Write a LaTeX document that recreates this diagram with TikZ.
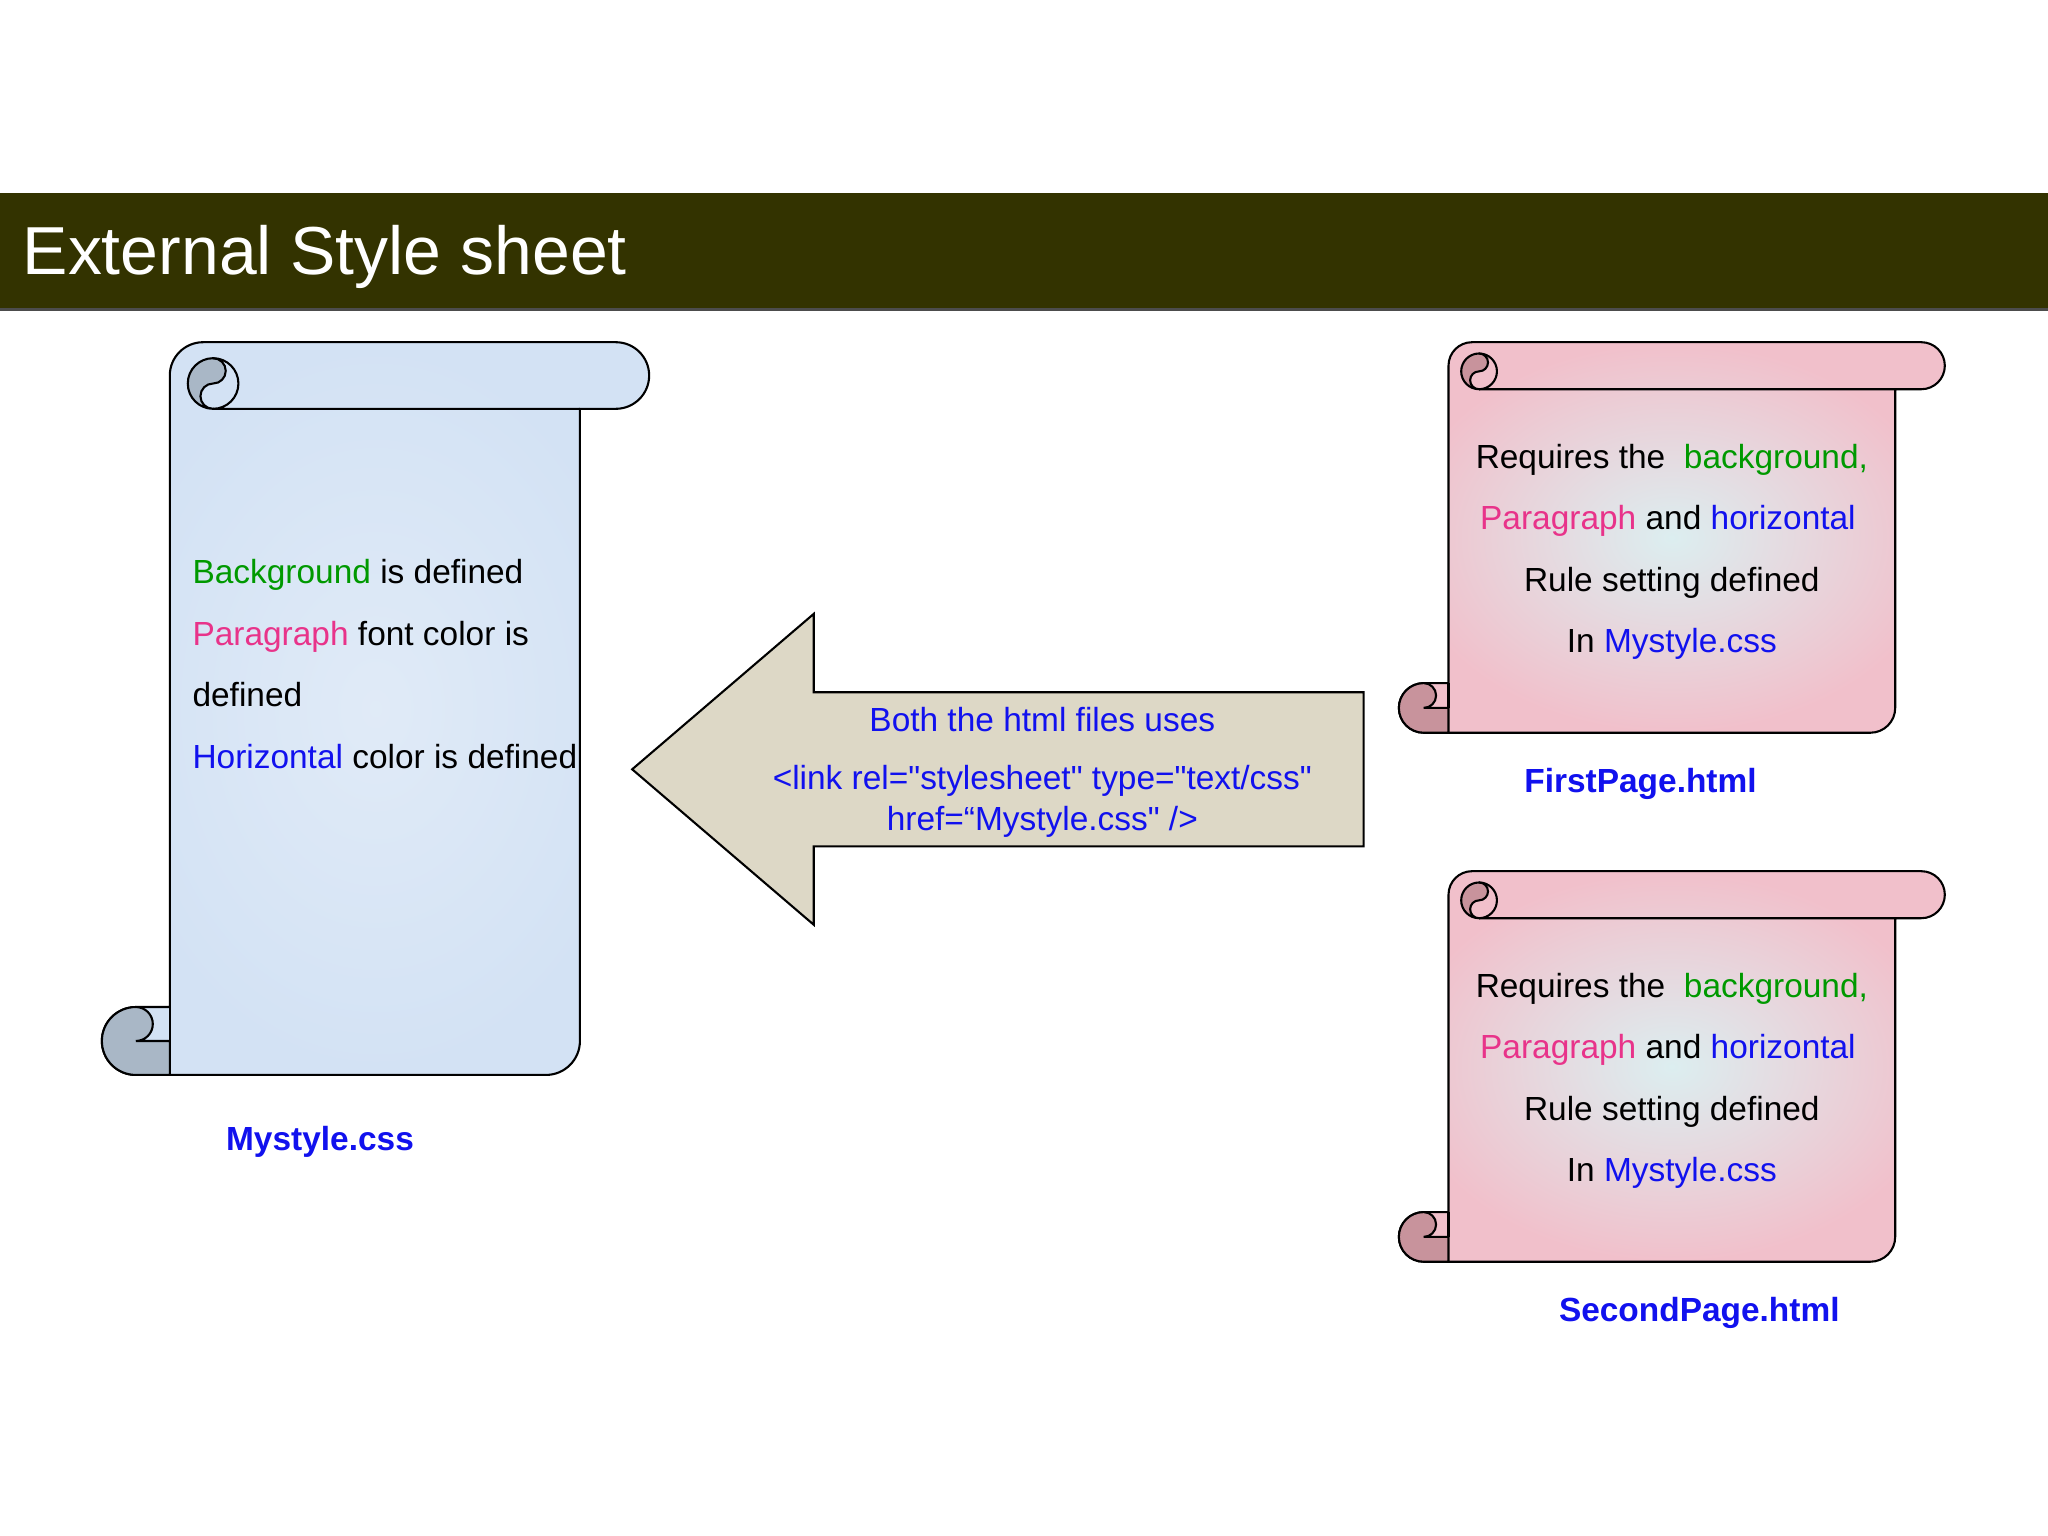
\documentclass[tikz,border=0pt]{standalone}
\usepackage{fontspec}
\usetikzlibrary{calc}
\setmainfont{Liberation Sans}
\newfontfamily\plainf{Liberation Sans}
\begin{document}
\begin{tikzpicture}[x=0.5pt,y=-0.5pt]
\definecolor{olive}{HTML}{333300}
\definecolor{cgreen}{HTML}{009900}
\definecolor{cpink}{HTML}{E8338A}
\definecolor{cblue}{HTML}{1111EE}
\definecolor{sblue}{HTML}{D3E2F4}
\definecolor{dblue}{HTML}{A9B7C6}
\definecolor{spink}{HTML}{F1C0CB}
\definecolor{cpale}{HTML}{DCEEF0}
\definecolor{dpink}{HTML}{C8939C}
\definecolor{beige}{HTML}{DDD8C6}
\tikzset{txt/.style={font=\fontsize{12.8pt}{15pt}\selectfont,inner sep=0pt},
 lbl/.style={font=\fontsize{12.8pt}{15pt}\selectfont\bfseries,text=cblue,inner sep=0pt},
 edge/.style={draw=black,line width=0.8pt},
 bluefill/.style={inner color=sblue!70!white,outer color=sblue},
 pinkfill/.style={inner color=cpale,outer color=spink}}
% L R RR T B H rb fillstyle dark
\newcommand{\myscroll}[9]{%
 \pgfmathsetmacro{\rr}{#6/2}%
 \pgfmathsetmacro{\cr}{0.76*\rr}%
 \shadedraw[edge,#8] (#1,{#4+\rr}) arc(180:270:\rr) -- ({#3-\rr},#4) arc(270:450:\rr)
   -- (#2,{#4+#6}) -- (#2,{#5-#7}) arc(0:90:#7) -- ({#1-#7},#5) arc(90:270:#7)
   -- (#1,{#5-2*#7}) -- cycle;
 \filldraw[edge,fill=#9] ({#1-#7},#5) arc(90:270:#7) arc(270:450:{#7/2}) -- (#1,{#5-#7}) -- (#1,#5) -- cycle;
 \draw[edge] (#1,{#5-#7}) -- (#1,{#5-2*#7});
 % top curl
 \coordinate (cc) at ({#1+1.3*\rr},{#4+#6-\cr});
 \filldraw[edge,fill=#9] ($(cc)+(0,\cr)$) arc(90:270:\cr) arc(270:450:{\cr/2}) arc(270:90:{\cr/2}) -- cycle;
 \draw[edge] ($(cc)+(0,-\cr)$) arc(270:450:\cr) -- (#2,{#4+#6});
}
\useasboundingbox[fill=white] (0,0) rectangle (1568,1176);
\fill[olive] (0,148) rectangle (1568,237);
\draw[black!70,line width=1pt] (0,237) -- (1568,237);
\node[anchor=west,text=white,font=\fontsize{26pt}{30pt}\selectfont,inner sep=0pt] (title) at (17,197) {External Style sheet};
% left scroll
\myscroll{130}{444}{497}{262}{823}{51}{26}{bluefill}{dblue}
\node[txt,anchor=base west] (l1) at (147,447) {\textcolor{cgreen}{Background} is defined};
\node[txt,anchor=base west] (l2) at (147,494) {\textcolor{cpink}{Paragraph} font color is};
\node[txt,anchor=base west] (l3) at (147,541) {defined};
\node[txt,anchor=base west] (l4) at (147,588) {\textcolor{cblue}{Horizontal} color is defined};
\node[lbl] (m) at (245,874) {Mystyle.css};
% arrow
\path[edge,fill=beige] (484,589) -- (623,470) -- (623,530) -- (1044,530) -- (1044,648) -- (623,648) -- (623,708) -- cycle;
\node[txt,text=cblue] (a1) at (798,551) {Both the html files uses};
\node[txt,text=cblue] (a2) at (798,598) {\plainf <link rel="stylesheet" type="text/css"};
\node[txt,text=cblue] (a3) at (798,629) {\plainf href=“Mystyle.css" />};
% right scrolls
\foreach \dy/\nm/\lx in {0/FirstPage.html/1256,405/SecondPage.html/1301}{
 \begin{scope}[yshift={-0.5*\dy pt}]
 \myscroll{1109}{1451}{1489}{262}{561}{36}{19}{pinkfill}{dpink}
 \node[txt] at (1280,352) {Requires the\ \ \textcolor{cgreen}{background,}};
 \node[txt] at (1277,399) {\textcolor{cpink}{Paragraph} and \textcolor{cblue}{horizontal}};
 \node[txt] at (1280,446) {Rule setting defined};
 \node[txt] at (1280,493) {In \textcolor{cblue}{Mystyle.css}};
 \node[lbl] at (\lx,600) {\nm};
 \end{scope}}
\end{tikzpicture}
\end{document}
